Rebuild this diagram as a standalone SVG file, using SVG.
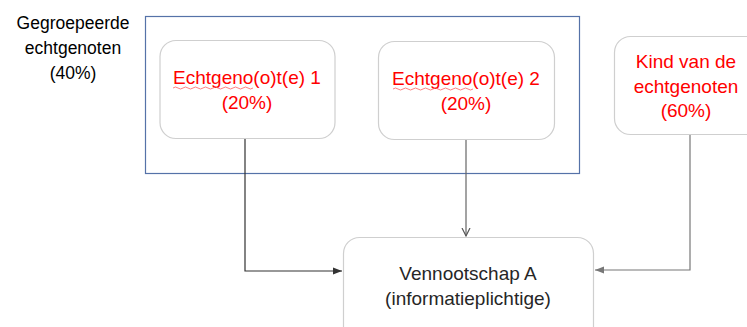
<svg xmlns="http://www.w3.org/2000/svg" width="747" height="327" viewBox="0 0 747 327">
<style>
.node{fill:#fff;stroke:#cfcfcf;stroke-width:1.2}
.t{font-family:"Liberation Sans",Arial,sans-serif;font-size:19px;text-anchor:middle}
.red{fill:#ff0000}
.blk{fill:#262626}
.lbl{font-family:"Liberation Sans",Arial,sans-serif;font-size:17.5px;text-anchor:middle;fill:#000}
.wave{fill:none;stroke:#ff6060;stroke-width:0.8}
.c{fill:none;stroke-width:1.2}
</style>
<defs>
<marker id="af" markerWidth="10" markerHeight="8" refX="9" refY="4" orient="auto" markerUnits="userSpaceOnUse"><path d="M0,0.5 L9,4 L0,7.5 Z" fill="context-stroke"/></marker>
<marker id="ao" markerWidth="10" markerHeight="10" refX="8" refY="5" orient="auto" markerUnits="userSpaceOnUse"><path d="M0,1 L8,5 L0,9" fill="none" stroke="#555" stroke-width="1.2"/></marker>
</defs>
<rect width="747" height="327" fill="#fff"/>
<g id="group-label">
<text class="lbl" x="73" y="29">Gegroepeerde</text>
<text class="lbl" x="73" y="54">echtgenoten</text>
<text class="lbl" x="73" y="79">(40%)</text>
</g>
<g id="group-box">
<rect x="145.5" y="16.5" width="434" height="157" fill="none" stroke="#5572a8" stroke-width="1.2"/>
</g>
<g id="connectors">
<path class="c" d="M245,138 V271 H342" stroke="#333" marker-end="url(#af)"/>
<path class="c" d="M466,139 V236" stroke="#666" marker-end="url(#ao)"/>
<path class="c" d="M690,134 V270 H595" stroke="#777" marker-end="url(#af)"/>
</g>
<g id="node-echtgenoot1">
<rect class="node" x="160" y="40.5" width="175" height="98" rx="16"/>
<text class="t red" x="247" y="84">Echtgeno(o)t(e) 1</text>
<text class="t red" x="247" y="109">(20%)</text>
<path class="wave" d="M173,88 q2.5,-2 5,0 t5,0 t5,0 t5,0 t5,0 t5,0 t5,0 t5,0 t5,0 t5,0 t5,0 t5,0 t5,0 t5,0 t5,0 t5,0"/>
</g>
<g id="node-echtgenoot2">
<rect class="node" x="378.5" y="41.5" width="176" height="98" rx="16"/>
<text class="t red" x="466" y="85">Echtgeno(o)t(e) 2</text>
<text class="t red" x="466" y="110">(20%)</text>
<path class="wave" d="M393,89 q2.5,-2 5,0 t5,0 t5,0 t5,0 t5,0 t5,0 t5,0 t5,0 t5,0 t5,0 t5,0 t5,0 t5,0 t5,0 t5,0 t5,0"/>
</g>
<g id="node-kind">
<rect class="node" x="614.5" y="36.5" width="150" height="98" rx="16"/>
<text class="t red" x="686" y="68">Kind van de</text>
<text class="t red" x="686" y="93">echtgenoten</text>
<text class="t red" x="686" y="117">(60%)</text>
</g>
<g id="node-vennootschap">
<rect class="node" x="343.5" y="237.5" width="250" height="110" rx="16"/>
<text class="t blk" x="468" y="280">Vennootschap A</text>
<text class="t blk" x="468" y="305">(informatieplichtige)</text>
</g>
</svg>
